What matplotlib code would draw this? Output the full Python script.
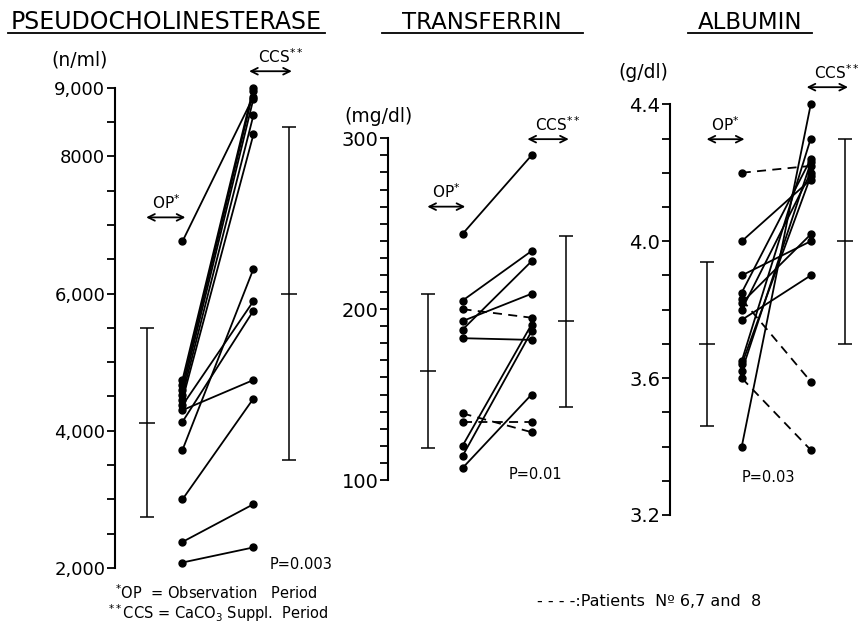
import matplotlib
matplotlib.use('Agg')
import matplotlib.pyplot as plt
from matplotlib.lines import Line2D
import numpy as np

plt.rcParams['font.family'] = 'DejaVu Sans'
plt.rcParams['mathtext.fontset'] = 'dejavusans'

W, H = 861, 629

# pseudocholinesterase (n/ml), OP -> CCS per patient
pche_op = [6760, 4740, 4660, 4590, 4520, 4450, 4370, 4300, 4130, 3720, 3000, 2380, 2080]
pche_ccs = [8870, 9000, 8950, 8840, 8600, 8320, 5890, 4740, 5750, 6360, 4470, 2930, 2300]
pche_dash = [0, 0, 0, 0, 0, 0, 0, 0, 0, 0, 0, 0, 0]
pche_mean = [4120, 6000]
pche_sd = [1380, 2420]

# transferrin (mg/dl)
trf_op = [244, 205, 200, 193, 188, 183, 139, 134, 120, 114, 107]
trf_ccs = [290, 234, 195, 209, 228, 182, 128, 134, 191, 187, 150]
trf_dash = [0, 0, 1, 0, 0, 0, 1, 1, 0, 0, 0]
trf_mean = [164, 193]
trf_sd = [45, 50]

# albumin (g/dl)
alb_op = [4.20, 4.00, 3.90, 3.85, 3.83, 3.82, 3.80, 3.77, 3.65, 3.64, 3.62, 3.60, 3.40]
alb_ccs = [4.22, 4.18, 4.00, 4.24, 3.59, 4.02, 4.20, 3.90, 4.30, 4.19, 4.23, 3.39, 4.40]
alb_dash = [1, 0, 0, 0, 1, 0, 0, 0, 0, 0, 0, 1, 0]
alb_mean = [3.70, 4.00]
alb_sd = [0.24, 0.30]


def px_axes(fig, left, top, right, bottom):
    return fig.add_axes([left / W, 1 - bottom / H, (right - left) / W, (bottom - top) / H])


def panel(ax, op, ccs, dash, mean, sd, ylim, ticks, labels, tick_fs, x0):
    for a, b, d in zip(op, ccs, dash):
        ax.plot([1, 2], [a, b], color='k', lw=1.3, marker='o', ms=5,
                ls=(0, (5, 3.5)) if d else '-', clip_on=False)
    ax.errorbar([0.5, 2.5], mean, yerr=sd, fmt='_', color='k', ms=11, mew=1.1,
                capsize=5, capthick=1.1, elinewidth=1.1, clip_on=False)
    ax.set_xlim(x0, 2.75)
    ax.set_ylim(*ylim)
    for s in ['top', 'right', 'bottom']:
        ax.spines[s].set_visible(False)
    ax.spines['left'].set_linewidth(1.5)
    ax.set_xticks([])
    ax.set_yticks(ticks)
    ax.set_yticklabels([labels.get(round(t, 2), '') for t in ticks])
    ax.tick_params(axis='y', direction='out', length=6, width=1.3,
                   labelsize=tick_fs, pad=1)
    ax.patch.set_alpha(0)


def period_arrows(ax, y_op, y_ccs):
    kw = dict(arrowstyle='<->', color='k', lw=1.3, mutation_scale=12)
    ax.annotate('', xy=(0.45, y_op), xytext=(1.08, y_op), arrowprops=kw,
                annotation_clip=False)
    ax.annotate('', xy=(1.9, y_ccs), xytext=(2.58, y_ccs), arrowprops=kw,
                annotation_clip=False)
    ax.annotate('OP$^{*}$', xy=(0.765, y_op), xytext=(0, 4), textcoords='offset points',
                ha='center', va='bottom', fontsize=11, annotation_clip=False)
    ax.annotate('CCS$^{**}$', xy=(2.3, y_ccs), xytext=(4, 4), textcoords='offset points',
                ha='center', va='bottom', fontsize=11, annotation_clip=False)


fig = plt.figure(figsize=(W / 100, H / 100), dpi=100)

ax1 = px_axes(fig, 115, 87.7, 115 + 2.70 * 71, 568)
panel(ax1, pche_op, pche_ccs, pche_dash, pche_mean, pche_sd, (2000, 9000),
      list(np.arange(2000, 9001, 500)),
      {2000: '2,000', 4000: '4,000', 6000: '6,000', 8000: '8000', 9000: '9,000'}, 13, 0.05)
period_arrows(ax1, 7110, 9240)
ax1.text(2.67, 2050, 'P=0.003', ha='center', va='center', fontsize=10.5)

ax2 = px_axes(fig, 388, 138.3, 388 + 2.83 * 69, 480)
panel(ax2, trf_op, trf_ccs, trf_dash, trf_mean, trf_sd, (100, 300),
      list(np.arange(100, 301, 10)), {100: '100', 200: '200', 300: '300'}, 14, -0.08)
period_arrows(ax2, 260, 299.5)
ax2.text(2.06, 103, 'P=0.01', ha='center', va='center', fontsize=10.5)

ax3 = px_axes(fig, 670, 104.3, 670 + 2.79 * 69, 515)
panel(ax3, alb_op, alb_ccs, alb_dash, alb_mean, alb_sd, (3.2, 4.4),
      [round(v, 1) for v in np.arange(3.2, 4.41, 0.1)],
      {3.2: '3.2', 3.6: '3.6', 4.0: '4.0', 4.4: '4.4'}, 14, -0.04)
period_arrows(ax3, 4.298, 4.45)
ax3.text(1.38, 3.31, 'P=0.03', ha='center', va='center', fontsize=10.5)

# titles with underlines
titles = [('PSEUDOCHOLINESTERASE', 166, 17, 8, 325),
          ('TRANSFERRIN', 482, 16.5, 382, 583),
          ('ALBUMIN', 750, 16.5, 688, 812)]
for txt, cx, fs, x0, x1 in titles:
    fig.text(cx / W, 1 - 29 / H, txt, ha='center', va='baseline', fontsize=fs)
    fig.add_artist(Line2D([x0 / W, x1 / W], [1 - 33 / H] * 2, color='k', lw=1.3))

fig.text(80 / W, 1 - 60 / H, '(n/ml)', ha='center', va='center', fontsize=13.5)
fig.text(378 / W, 1 - 116 / H, '(mg/dl)', ha='center', va='center', fontsize=13.5)
fig.text(643 / W, 1 - 73 / H, '(g/dl)', ha='center', va='center', fontsize=13.5)

fig.text(115 / W, 1 - 593 / H, '$^{*}$OP  = Observation   Period', ha='left', va='center', fontsize=10.5)
fig.text(108 / W, 1 - 613 / H, '$^{**}$CCS = CaCO$_3$ Suppl.  Period', ha='left', va='center', fontsize=10.5)
fig.text(537 / W, 1 - 601 / H, '- - - -:Patients  Nº 6,7 and  8', ha='left', va='center', fontsize=11.5)

fig.savefig('out.png', dpi=100)
